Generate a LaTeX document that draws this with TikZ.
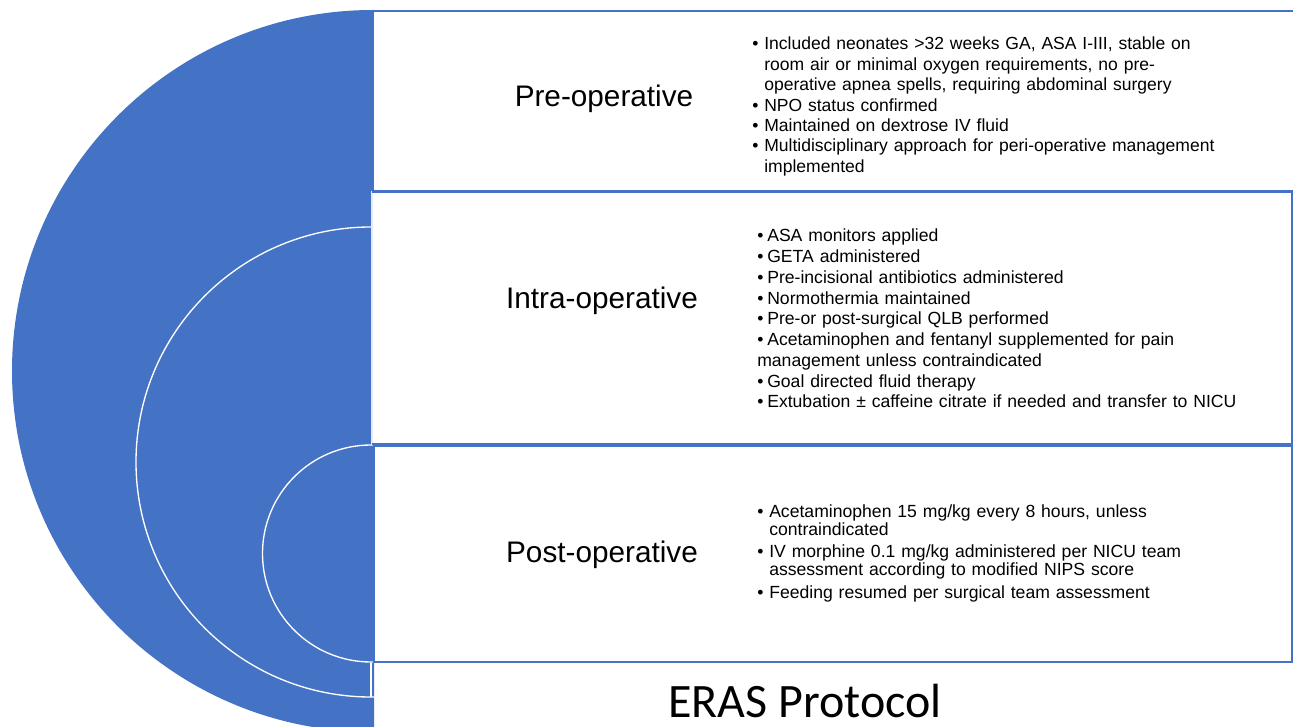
\documentclass[tikz,border=0pt]{standalone}
\usepackage{fontspec}
\setmainfont{Liberation Sans}
\newfontfamily\calibrifont{Carlito}
\definecolor{accent}{HTML}{4472C4}
\definecolor{pale}{HTML}{E4EBF7}
\begin{document}
\begin{tikzpicture}[x=0.75pt,y=-0.75pt,
  boxline/.style={draw=accent, line width=1.1pt, fill=white},
  ring/.style={draw=white, line width=1pt},
  phase/.style={font=\fontsize{22.3}{26}\selectfont, anchor=base, inner sep=0pt},
  bullets/.style={anchor=base west, align=left, text width=400pt, inner sep=0pt}]
\useasboundingbox (0,0) rectangle (1293,727);
% blue half disc with white rings
\begin{scope}
  \clip (0,0) rectangle (374,727);
  \fill[accent] (373,371) circle[radius=361];
  \draw[ring] (371,462) circle[radius=235];
  \draw[ring] (371,553.5) circle[radius=108.5];
\end{scope}
\draw[ring] (371,697) -- (371,663);
% boxes
\draw[draw=pale, line width=1.1pt, fill=white] (372,192) rectangle (1292,444);
\draw[accent, line width=1.1pt] (372,192) -- (1292,192) -- (1292,444) -- (372,444);
\draw[boxline] (373,11) rectangle (1298,191);
\draw[boxline] (374,446) rectangle (1292,662);
% phase titles
\node[phase] (pretitle) at (604,107) {Pre-operative};
\node[phase] (intratitle) at (602,309) {Intra-operative};
\node[phase] (posttitle) at (602,562) {Post-operative};
% bullet lists
\node[bullets, font=\fontsize{13.15}{15.3}\selectfont] (prelist) at (752,50) {%
\makebox[9pt][l]{•}Included neonates >32 weeks GA, ASA I-III, stable on\\
\hspace*{9pt}room air or minimal oxygen requirements, no pre-\\
\hspace*{9pt}operative apnea spells, requiring abdominal surgery\\
\makebox[9pt][l]{•}NPO status confirmed\\
\makebox[9pt][l]{•}Maintained on dextrose IV fluid\\
\makebox[9pt][l]{•}Multidisciplinary approach for peri-operative management\\
\hspace*{9pt}implemented};
\node[bullets, font=\fontsize{13.2}{15.56}\selectfont] (intralist) at (757,242) {%
\makebox[7.5pt][l]{•}ASA monitors applied\\
\makebox[7.5pt][l]{•}GETA administered\\
\makebox[7.5pt][l]{•}Pre-incisional antibiotics administered\\
\makebox[7.5pt][l]{•}Normothermia maintained\\
\makebox[7.5pt][l]{•}Pre-or post-surgical QLB performed\\
\makebox[7.5pt][l]{•}Acetaminophen and fentanyl supplemented for pain\\
management unless contraindicated\\
\makebox[7.5pt][l]{•}Goal directed fluid therapy\\
\makebox[7.5pt][l]{•}Extubation ± caffeine citrate if needed and transfer to NICU};
\node[bullets, font=\fontsize{13.2}{13.6}\selectfont] (postlist) at (757,517) {%
\makebox[9pt][l]{•}Acetaminophen 15 mg/kg every 8 hours, unless\\
\hspace*{9pt}contraindicated\\[3.2pt]
\makebox[9pt][l]{•}IV morphine 0.1 mg/kg administered per NICU team\\
\hspace*{9pt}assessment according to modified NIPS score\\[3.2pt]
\makebox[9pt][l]{•}Feeding resumed per surgical team assessment};
% caption
\node[font=\calibrifont\fontsize{36}{40}\selectfont, anchor=base, inner sep=0pt] (caption) at (805,717) {ERAS Protocol};
\end{tikzpicture}
\end{document}
